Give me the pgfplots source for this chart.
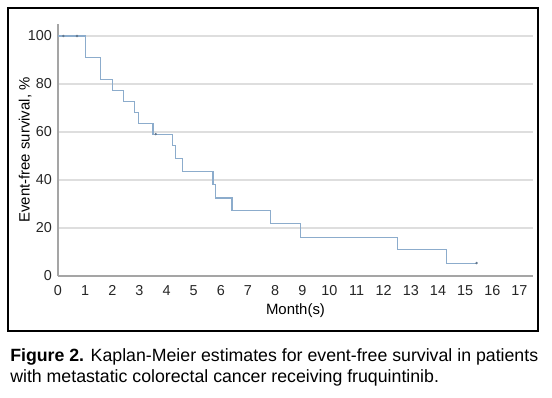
\documentclass[border=0pt]{standalone}
\usepackage{pgfplots}
\pgfplotsset{compat=1.18}
\usepackage{fontspec}
\setmainfont{Liberation Sans}
\definecolor{curve}{RGB}{140,172,204}
\definecolor{gridc}{RGB}{222,222,222}
\definecolor{axc}{RGB}{165,165,165}
\begin{document}
\begin{tikzpicture}
\path[use as bounding box] (0,0) rectangle (414pt,298.5pt);
\draw[black,line width=0.8pt] (6pt,50.25pt) rectangle (403.5pt,292.5pt);
\begin{axis}[
  at={(43.5pt,91.5pt)}, anchor=south west,
  scale only axis, width=356.25pt, height=189pt,
  xmin=0, xmax=17.5, ymin=0, ymax=105,
  axis lines=left, axis line style={axc, line width=1.2pt, -},
  xtick={0,1,...,17}, ytick={0,20,...,100},
  major tick length=0pt,
  ymajorgrids, grid style={gridc, line width=0.8pt},
  tick label style={font=\fontsize{10.8}{12}\selectfont, text=black!85},
  /pgf/number format/assume math mode=true,
  xticklabel style={yshift=-3.5pt},
  yticklabel style={xshift=-1pt},
  xlabel={Month(s)}, ylabel={Event-free survival, \%},
  label style={font=\fontsize{11.2}{13}\selectfont},
  xlabel style={at={(axis description cs:0.5,-0.139)}, anchor=center},
  ylabel style={at={(axis description cs:-0.069,0.5)}, anchor=center},
  clip=false,
]
\addplot[const plot, color=curve, line width=0.8pt] coordinates {
(0,100) (1.0,90.9) (1.58,81.8) (2.0,77.3) (2.4,72.7) (2.83,68.2) (2.95,63.6)
(3.5,59.1) (4.22,54.5) (4.34,49.0) (4.6,43.5) (5.71,38.0) (5.8,32.5)
(6.41,27.2) (7.83,21.8) (8.92,16.2) (12.51,10.9) (14.31,5.4) (15.42,5.4)
};
\addplot[only marks, mark=*, mark size=0.7pt, color=curve!70!black] coordinates {
(0.2,100) (0.7,100) (3.6,59.1) (15.42,5.4)
};
\end{axis}
\node[anchor=base west, font=\fontsize{13.3}{16}\selectfont, inner sep=0pt] at (7.5pt,27pt) {\textbf{Figure 2.} Kaplan-Meier estimates for event-free survival in patients};
\node[anchor=base west, font=\fontsize{13.3}{16}\selectfont, inner sep=0pt] at (7.5pt,11.25pt) {with metastatic colorectal cancer receiving fruquintinib.};
\end{tikzpicture}
\end{document}
